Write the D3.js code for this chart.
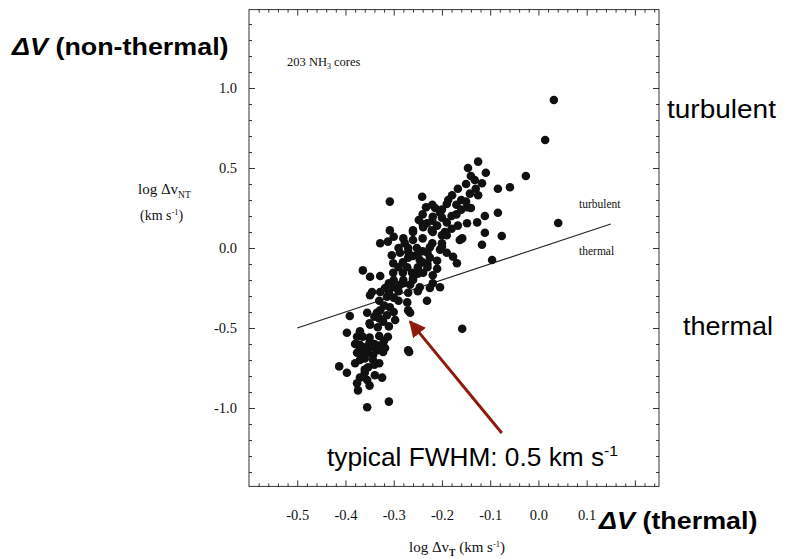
<!DOCTYPE html>
<html>
<head>
<meta charset="utf-8">
<script src="https://cdn.jsdelivr.net/npm/d3@7"></script>
<style>
  body { margin: 0; background: #fff; }
  svg { display: block; }
</style>
</head>
<body>
<svg id="chart" width="785" height="559"></svg>
<script>
// log dv_T (x) and log dv_NT (y) for the cores
const coreX = [
  0.032, 0.014, -0.026, -0.059, -0.084, -0.084, 0.041, -0.125, -0.146, -0.109,
  -0.132, -0.117, -0.167, -0.179, -0.187, -0.190, -0.142, -0.125, -0.148, -0.140,
  -0.111, -0.148, -0.127, -0.167, -0.111, -0.076, -0.241, -0.308, -0.233, -0.214,
  -0.204, -0.219, -0.248, -0.231, -0.239, -0.308, -0.260, -0.221, -0.194, -0.200,
  -0.158, -0.328, -0.312, -0.277, -0.260, -0.219, -0.190, -0.163, -0.117, -0.304,
  -0.287, -0.270, -0.252, -0.225, -0.204, -0.177, -0.169, -0.301, -0.281, -0.246,
  -0.225, -0.272, -0.364, -0.349, -0.328, -0.301, -0.281, -0.262, -0.239, -0.219,
  -0.096, -0.219, -0.318, -0.301, -0.287, -0.266, -0.246, -0.225, -0.204, -0.345,
  -0.328, -0.231, -0.349, -0.314, -0.328, -0.308, -0.272, -0.270, -0.391, -0.355,
  -0.335, -0.314, -0.297, -0.266, -0.397, -0.376, -0.364, -0.349, -0.333, -0.322,
  -0.312, -0.158, -0.370, -0.349, -0.335, -0.318, -0.270, -0.364, -0.343, -0.268,
  -0.376, -0.355, -0.322, -0.370, -0.343, -0.413, -0.397, -0.353, -0.370, -0.355,
  -0.339, -0.324, -0.376, -0.374, -0.355, -0.310,
  -0.290, -0.260, -0.240, -0.230, -0.260, -0.280, -0.300, -0.210, -0.250, -0.190,
  -0.200, -0.240, -0.280, -0.220, -0.200, -0.170, -0.160, -0.160, -0.360, -0.340,
  -0.330, -0.360, -0.350, -0.380, -0.320,
  -0.290, -0.270, -0.250, -0.310, -0.290, -0.270, -0.250, -0.230, -0.220, -0.260,
  -0.300, -0.240, -0.210, -0.190, -0.180, -0.170, -0.150, -0.130, -0.150, -0.140,
  -0.200, -0.220, -0.240, -0.370, -0.350, -0.330, -0.360, -0.340, -0.380, -0.360,
  -0.350, -0.330, -0.370, -0.350, -0.330, -0.310, -0.300, -0.290, -0.330, -0.310,
  -0.320, -0.340, -0.300, -0.280, -0.260, -0.240, -0.210, -0.180, -0.200, -0.230,
  -0.250, -0.270
];
const coreY = [
  0.925, 0.675, 0.45, 0.38, 0.37, 0.22, 0.156, 0.54, 0.50, 0.47,
  0.425, 0.405, 0.37, 0.33, 0.30, 0.275, 0.34, 0.33, 0.255, 0.25,
  0.20, 0.155, 0.16, 0.14, 0.095, 0.075, 0.32, 0.29, 0.255, 0.25,
  0.22, 0.195, 0.175, 0.155, 0.13, 0.11, 0.11, 0.11, 0.10, 0.08,
  0.06, 0.03, 0.04, 0.03, 0.10, 0.10, 0.08, 0.05, 0.02, -0.045,
  -0.03, -0.025, 0.0, 0.005, -0.01, -0.055, -0.095, -0.095, -0.09, -0.075,
  -0.06, -0.12, -0.14, -0.18, -0.175, -0.155, -0.155, -0.155, -0.155, -0.17,
  -0.075, -0.22, -0.25, -0.245, -0.23, -0.23, -0.245, -0.25, -0.245, -0.275,
  -0.275, -0.33, -0.295, -0.305, -0.39, -0.37, -0.34, -0.39, -0.425, -0.405,
  -0.405, -0.42, -0.45, -0.405, -0.53, -0.555, -0.555, -0.48, -0.495, -0.46,
  -0.555, -0.505, -0.605, -0.62, -0.64, -0.625, -0.64, -0.655, -0.67, -0.65,
  -0.655, -0.655, -0.65, -0.70, -0.70, -0.74, -0.78, -0.745, -0.81, -0.825,
  -0.795, -0.81, -0.845, -0.89, -0.995, -0.96,
  0.0, -0.05, -0.02, -0.10, -0.20, -0.20, -0.20, -0.13, -0.12, -0.03,
  0.03, 0.06, 0.06, 0.17, 0.19, 0.21, 0.24, 0.30, -0.62, -0.60,
  -0.72, -0.76, -0.56, -0.60, -0.58,
  -0.27, -0.28, -0.27, -0.22, -0.12, -0.06, -0.04, -0.03, 0.03, 0.05,
  0.07, 0.15, 0.14, 0.16, 0.20, 0.27, 0.29, 0.37, 0.40, 0.45,
  0.24, 0.27, 0.21, -0.63, -0.59, -0.61, -0.69, -0.73, -0.72, -0.78,
  -0.86, -0.55, -0.52, -0.47, -0.44, -0.49, -0.40, -0.33, -0.33, -0.28,
  -0.36, -0.43, -0.31, -0.22, -0.19, -0.09, -0.08, 0.12, 0.01, -0.12,
  -0.16, 0.0
];

// thermal = non-thermal boundary (log dv_NT = log dv_T)
const boundaryX = [-0.5, 0.15];
const boundaryY = [-0.5, 0.15];

// arrow pointing at the typical core, tail then head, in data units
const arrowX = [-0.076, -0.266];
const arrowY = [-1.156, -0.46];

const xMajorTicks = [-0.5, -0.4, -0.3, -0.2, -0.1, 0.0, 0.1, 0.2];
const xTickLabels = [-0.5, -0.4, -0.3, -0.2, -0.1, 0.0, 0.1];
const yMajorTicks = [-1.0, -0.5, 0.0, 0.5, 1.0];
const xDomain = [-0.6, 0.25];
const yDomain = [-1.49, 1.49];

const svg = d3.select('#chart');

const x = d3.scaleLinear().domain(xDomain).range([249, 659]);
const y = d3.scaleLinear().domain(yDomain).range([486.4, 9.6]);

const xMinor = d3.range(-0.58, 0.25, 0.02).map(v => +v.toFixed(2))
    .filter(v => !xMajorTicks.some(m => Math.abs(m - v) < 1e-6));
const yMinor = d3.range(-1.4, 1.45, 0.1).map(v => +v.toFixed(1))
    .filter(v => !yMajorTicks.some(m => Math.abs(m - v) < 1e-6));

const paperFont = '"Liberation Serif", "Times New Roman", serif';
const slideFont = '"Liberation Sans", Arial, sans-serif';
const ink = '#111';

// frame
svg.append('rect')
    .attr('x', x(xDomain[0]))
    .attr('y', y(yDomain[1]))
    .attr('width', x(xDomain[1]) - x(xDomain[0]))
    .attr('height', y(yDomain[0]) - y(yDomain[1]))
    .attr('fill', 'none')
    .attr('stroke', '#333')
    .attr('stroke-width', 1);

function styleAxis(g) {
    g.select('.domain').remove();
    g.selectAll('.tick line').attr('stroke', '#333');
    g.selectAll('.tick text').attr('fill', ink)
        .style('font-family', paperFont).style('font-size', '14.5px');
}

const bottomY = y(yDomain[0]);
const topY = y(yDomain[1]);
const leftX = x(xDomain[0]);
const rightX = x(xDomain[1]);

// bottom axis with labels
svg.append('g')
    .attr('transform', `translate(0,${bottomY})`)
    .call(d3.axisBottom(x).tickValues(xMajorTicks).tickSize(-6).tickPadding(23)
        .tickFormat(d => xTickLabels.includes(d) ? d.toFixed(1) : ''))
    .call(styleAxis);
svg.append('g')
    .attr('transform', `translate(0,${bottomY})`)
    .call(d3.axisBottom(x).tickValues(xMinor).tickSize(-3).tickFormat(''))
    .call(styleAxis);

// top axis, ticks only
svg.append('g')
    .attr('transform', `translate(0,${topY})`)
    .call(d3.axisTop(x).tickValues(xMajorTicks).tickSize(-6).tickFormat(''))
    .call(styleAxis);
svg.append('g')
    .attr('transform', `translate(0,${topY})`)
    .call(d3.axisTop(x).tickValues(xMinor).tickSize(-3).tickFormat(''))
    .call(styleAxis);

// left axis with labels
svg.append('g')
    .attr('transform', `translate(${leftX},0)`)
    .call(d3.axisLeft(y).tickValues(yMajorTicks).tickSize(-6).tickPadding(12)
        .tickFormat(d => d.toFixed(1)))
    .call(styleAxis);
svg.append('g')
    .attr('transform', `translate(${leftX},0)`)
    .call(d3.axisLeft(y).tickValues(yMinor).tickSize(-3).tickFormat(''))
    .call(styleAxis);

// right axis, ticks only
svg.append('g')
    .attr('transform', `translate(${rightX},0)`)
    .call(d3.axisRight(y).tickValues(yMajorTicks).tickSize(-6).tickFormat(''))
    .call(styleAxis);
svg.append('g')
    .attr('transform', `translate(${rightX},0)`)
    .call(d3.axisRight(y).tickValues(yMinor).tickSize(-3).tickFormat(''))
    .call(styleAxis);

// boundary line
svg.append('line')
    .attr('x1', x(boundaryX[0])).attr('y1', y(boundaryY[0]))
    .attr('x2', x(boundaryX[1])).attr('y2', y(boundaryY[1]))
    .attr('stroke', '#222')
    .attr('stroke-width', 1.1);

// the cores
svg.append('g')
    .selectAll('circle')
    .data(d3.zip(coreX, coreY))
    .join('circle')
    .attr('cx', d => x(d[0]))
    .attr('cy', d => y(d[1]))
    .attr('r', 4.3)
    .attr('fill', '#111');

// paper annotations
const label203 = svg.append('text')
    .attr('x', 287).attr('y', 66)
    .attr('fill', ink)
    .style('font-family', paperFont).style('font-size', '12.5px');
label203.append('tspan').text('203 NH');
label203.append('tspan').attr('dy', 3).style('font-size', '8px').text('3');
label203.append('tspan').attr('dy', -3).text(' cores');

svg.append('text').attr('x', 579).attr('y', 208).attr('fill', ink)
    .style('font-family', paperFont).style('font-size', '11.5px').text('turbulent');
svg.append('text').attr('x', 579).attr('y', 255).attr('fill', ink)
    .style('font-family', paperFont).style('font-size', '11.5px').text('thermal');

// y axis title
const yTitle1 = svg.append('text').attr('x', 138).attr('y', 194).attr('fill', ink)
    .style('font-family', paperFont).style('font-size', '15px');
yTitle1.append('tspan').text('log Δv');
yTitle1.append('tspan').attr('dy', 4).style('font-size', '9.5px').text('NT');
const yTitle2 = svg.append('text').attr('x', 140).attr('y', 220).attr('fill', ink)
    .style('font-family', paperFont).style('font-size', '14px');
yTitle2.append('tspan').text('(km s');
yTitle2.append('tspan').attr('dy', -5).style('font-size', '8.5px').text('-1');
yTitle2.append('tspan').attr('dy', 5).text(')');

// x axis title
const xTitle = svg.append('text').attr('x', 457).attr('y', 552).attr('fill', ink)
    .attr('text-anchor', 'middle')
    .style('font-family', paperFont).style('font-size', '15px');
xTitle.append('tspan').text('log Δv');
xTitle.append('tspan').attr('dy', 4).style('font-size', '9.5px').style('font-weight', 'bold').text('T');
xTitle.append('tspan').attr('dy', -4).text(' (km s');
xTitle.append('tspan').attr('dy', -5).style('font-size', '8.5px').text('-1');
xTitle.append('tspan').attr('dy', 5).text(')');

// red arrow
const arrowColor = '#8e1b0e';
svg.append('defs').append('marker')
    .attr('id', 'head')
    .attr('viewBox', '0 0 10 10')
    .attr('refX', 9).attr('refY', 5)
    .attr('markerWidth', 5.5).attr('markerHeight', 5.5)
    .attr('markerUnits', 'strokeWidth')
    .attr('orient', 'auto')
    .append('path')
    .attr('d', 'M0,0 L10,5 L0,10 Z')
    .attr('fill', arrowColor);
svg.append('line')
    .attr('x1', x(arrowX[0])).attr('y1', y(arrowY[0]))
    .attr('x2', x(arrowX[1])).attr('y2', y(arrowY[1]))
    .attr('stroke', arrowColor)
    .attr('stroke-width', 3)
    .attr('marker-end', 'url(#head)');

// slide labels (slightly stretched like the slide)
function slideText(px, py, sx) {
    return svg.append('g')
        .attr('transform', `translate(${px},${py}) scale(${sx},1)`)
        .append('text')
        .attr('fill', '#000')
        .style('font-family', slideFont);
}

const nonThermal = slideText(12, 55, 1.12).style('font-size', '24px').style('font-weight', 'bold');
nonThermal.append('tspan').style('font-style', 'italic').text('ΔV');
nonThermal.append('tspan').text(' (non-thermal)');

const thermalAxis = slideText(599, 529, 1.12).style('font-size', '24px').style('font-weight', 'bold');
thermalAxis.append('tspan').style('font-style', 'italic').text('ΔV');
thermalAxis.append('tspan').text(' (thermal)');

slideText(667, 118, 1.12).style('font-size', '25px').text('turbulent');
slideText(683, 335, 1.08).style('font-size', '25px').text('thermal');

const fwhm = slideText(327, 466, 1.05).style('font-size', '25px');
fwhm.append('tspan').text('typical FWHM: 0.5 km s');
fwhm.append('tspan').attr('dy', -10).style('font-size', '15px').text('-1');
</script>
</body>
</html>
